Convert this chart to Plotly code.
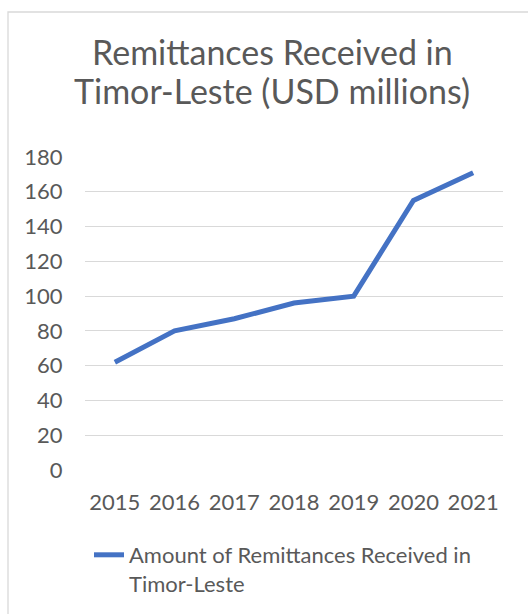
import plotly.graph_objects as go

years = ["2015", "2016", "2017", "2018", "2019", "2020", "2021"]
remittances = [62, 80, 87, 96, 100, 155, 171]
series_name = "Amount of Remittances Received in<br>Timor-Leste"
title_lines = ["Remittances Received in", "Timor-Leste (USD millions)"]
y_ticks = [0, 20, 40, 60, 80, 100, 120, 140, 160, 180]

FONT = "Lato"
GREY = "#595959"

fig = go.Figure()
fig.add_trace(go.Scatter(
    x=years, y=remittances, mode="lines", name=series_name,
    line=dict(color="#4472C4", width=5),
))

W, H = 528, 614
L, R, T, B = 85, 25, 157, 144
pw, ph = W - L - R, H - T - B

def px_x(x):
    return (x - L) / pw

def px_y(y):
    return (H - B - y) / ph

annotations = []
for line_text, yc in zip(title_lines, [52, 91]):
    annotations.append(dict(text=line_text, xref="paper", yref="paper",
                            x=px_x(272), y=px_y(yc), xanchor="center", yanchor="middle",
                            showarrow=False, font=dict(family=FONT, size=34, color=GREY)))

fig.update_layout(
    width=W, height=H,
    margin=dict(l=L, r=R, t=T, b=B, autoexpand=False),
    paper_bgcolor="white", plot_bgcolor="white",
    font=dict(family=FONT, color=GREY, size=22),
    annotations=annotations,
    xaxis=dict(type="category", range=[-0.5, 6.5], showgrid=False, showline=False,
               zeroline=False, ticks="outside", ticklen=13, tickcolor="rgba(0,0,0,0)",
               tickfont=dict(size=22, color=GREY), automargin=False),
    yaxis=dict(range=[0, 180], tickvals=y_ticks, showgrid=True, gridcolor="#D9D9D9",
               gridwidth=1.3, zeroline=False, showline=False,
               ticks="outside", ticklen=17, tickcolor="rgba(0,0,0,0)",
               tickfont=dict(size=22, color=GREY), automargin=False),
    showlegend=True,
    legend=dict(x=px_x(89), xanchor="left", y=px_y(534), yanchor="top",
                orientation="h", valign="top",
                font=dict(size=22, color=GREY), bgcolor="rgba(0,0,0,0)"),
    shapes=[dict(type="rect", xref="paper", yref="paper",
                 x0=px_x(8), x1=px_x(540), y0=px_y(630), y1=px_y(12),
                 line=dict(color="#D9D9D9", width=1.3), fillcolor="rgba(0,0,0,0)",
                 layer="below")],
)

fig.write_html("out.html")
